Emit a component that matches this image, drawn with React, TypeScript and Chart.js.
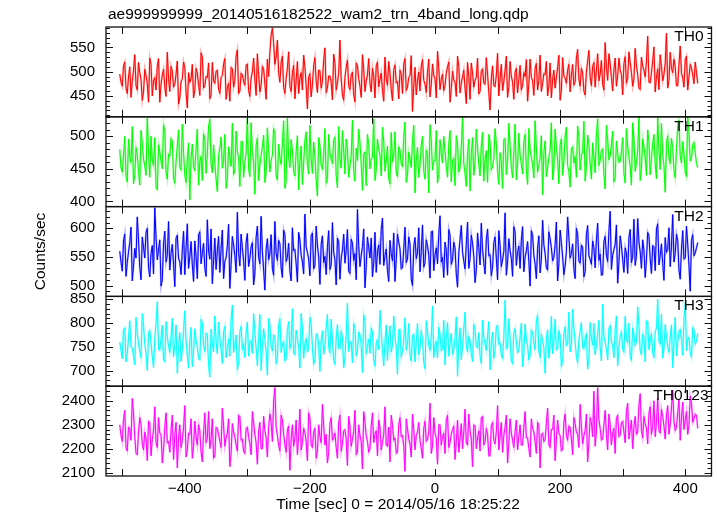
import React, { useEffect, useRef } from "react";
import { Chart, registerables } from "chart.js";

Chart.register(...registerables);

const TITLE = "ae999999999_20140516182522_wam2_trn_4band_long.qdp";
const X_TITLE = "Time [sec] 0 = 2014/05/16 18:25:22";
const Y_TITLE = "Counts/sec";

// Samples: "A" arrays at t = T_START + i*BIN, "B" arrays at t = T_START + BIN/2 + i*BIN
const T_START = -504;
const BIN = 4;

const TH0_RATE_A = [
  495, 470, 520, 455, 510, 480, 535, 462, 498, 441,
  505, 476, 528, 450, 488, 512, 437, 493, 468, 540,
  459, 501, 474, 522, 446, 485, 509, 425, 478, 515,
  462, 497, 451, 530, 471, 488, 444, 519, 476, 503,
  455, 492, 527, 468, 439, 506, 481, 545, 460, 494,
  472, 516, 449, 500, 483, 537, 458, 511, 475, 526,
  540, 590, 515, 565, 478, 532, 455, 508, 470, 498,
  444, 521, 487, 462, 510, 423, 496, 473, 529, 457,
  502, 480, 549, 466, 491, 442, 518, 477, 565, 452,
  488, 524, 463, 499, 438, 512, 470, 535, 459, 493,
  476, 507, 446, 520, 484, 461, 530, 472, 497, 440,
  514, 479, 503, 455, 527, 468, 492, 418, 509, 481,
  460, 525, 474, 499, 448, 516, 486, 542, 463, 495,
  471, 510, 437, 501, 478, 532, 456, 489, 466, 519,
  443, 497, 482, 528, 459, 506, 474, 495, 421, 512,
  469, 538, 485, 461, 503, 447, 521, 478, 499, 456,
  513, 472, 490, 439, 526, 481, 507, 462, 534, 475,
  494, 450, 518, 483, 466, 509, 441, 529, 487, 503,
  458, 515, 479, 546, 470, 497, 452, 522, 488, 511,
  468, 537, 495, 474, 560, 482, 516, 460, 528, 491,
  503, 452, 531, 486, 519, 470, 548, 494, 463, 512,
  489, 573, 477, 522, 458, 506, 535, 481, 517, 466,
  540, 498, 510, 471, 553, 487, 525, 462, 515, 493,
  520, 476,
];
const TH0_RATE_B = [
  478, 512, 466, 489, 447, 503, 471, 519, 484, 458,
  492, 437, 515, 481, 462, 527, 474, 505, 449, 486,
  511, 468, 495, 433, 479, 520, 457, 498, 485, 446,
  507, 473, 539, 466, 490, 518, 452, 481, 501, 464,
  488, 516, 443, 476, 509, 468, 532, 455, 497, 479,
  513, 461, 486, 528, 451, 494, 472, 505, 443, 490,
  575, 560, 530, 498, 519, 467, 486, 541, 459, 513,
  482, 455, 498, 534, 471, 489, 448, 512, 480, 503,
  466, 524, 457, 491, 478, 536, 462, 497, 485, 441,
  509, 471, 493, 452, 518, 486, 447, 505, 480, 527,
  458, 490, 512, 469, 497, 439, 486, 521, 463, 504,
  477, 444, 495, 516, 461, 488, 533, 470, 452, 499,
  511, 482, 457, 526, 473, 492, 446, 508, 484, 461,
  497, 520, 465, 483, 449, 511, 476, 503, 434, 490,
  518, 468, 489, 454, 501, 476, 529, 457, 486, 471,
  493, 450, 515, 479, 532, 468, 491, 443, 507, 484,
  462, 498, 525, 474, 488, 451, 517, 482, 459, 496,
  521, 470, 446, 503, 487, 534, 462, 491, 476, 515,
  493, 472, 528, 485, 507, 460, 499, 544, 471, 519,
  502, 481, 523, 462, 511, 537, 488, 505, 470, 528,
  494, 517, 476, 541, 499, 485, 512, 466, 530, 503,
  520, 478, 497, 551, 489, 463, 511, 494, 579, 482,
  507, 526, 471, 515, 497, 468, 532, 489, 508, 475,
  498,
];

const TH1_RATE_A = [
  480, 445, 500, 430, 468, 515, 441, 472, 425, 490,
  455, 528, 437, 463, 498, 418, 476, 450, 507, 434,
  470, 493, 428, 485, 452, 519, 440, 466, 402, 488,
  447, 511, 461, 432, 495, 473, 526, 444, 458, 415,
  482, 451, 503, 436, 469, 520, 448, 477, 423, 492,
  460, 530, 438, 475, 411, 497, 456, 484, 429, 513,
  445, 471, 505, 433, 466, 489, 420, 528, 452, 478,
  439, 501, 462, 426, 494, 457, 517, 443, 470, 408,
  486, 449, 512, 435, 474, 458, 499, 421, 467, 509,
  442, 481, 455, 525, 431, 463, 490, 417, 476, 503,
  450, 468, 432, 496, 472, 514, 446, 485, 427, 461,
  507, 438, 479, 453, 522, 441, 466, 492, 413, 483,
  456, 500, 434, 471, 518, 448, 464, 428, 495, 459,
  477, 437, 509, 462, 424, 488, 451, 530, 443, 473,
  416, 498, 460, 482, 439, 506, 465, 429, 491, 454,
  512, 447, 475, 420, 497, 463, 486, 436, 519, 458,
  471, 442, 503, 426, 480, 457, 524, 445, 467, 410,
  493, 452, 478, 433, 511, 464, 487, 440, 499, 455,
  422, 484, 469, 516, 448, 476, 431, 502, 459, 490,
  444, 527, 463, 481, 419, 495, 470, 508, 437, 474,
  461, 498, 428, 485, 453, 521, 446, 479, 432, 496,
  467, 510, 441, 488, 457, 529, 449, 472, 414, 501,
  458, 483, 436, 515, 470, 492, 445, 530, 462, 487,
  475, 452,
];
const TH1_RATE_B = [
  452, 471, 438, 496, 460, 427, 483, 447, 509, 465,
  440, 478, 500, 455, 421, 487, 462, 518, 444, 473,
  497, 436, 461, 510, 448, 475, 429, 490, 466, 452,
  481, 425, 469, 504, 443, 516, 458, 487, 434, 471,
  499, 463, 420, 484, 454, 441, 508, 467, 492, 437,
  474, 449, 521, 460, 486, 432, 470, 502, 445, 480,
  463, 512, 439, 488, 457, 524, 431, 468, 495, 446,
  477, 418, 485, 459, 507, 442, 465, 491, 433, 498,
  456, 472, 428, 503, 466, 494, 440, 515, 451, 479,
  496, 437, 469, 446, 482, 511, 458, 473, 424, 489,
  465, 527, 448, 480, 439, 492, 461, 435, 506, 470,
  444, 484, 458, 498, 429, 476, 452, 517, 463, 437,
  486, 447, 479, 413, 493, 461, 509, 442, 474, 500,
  455, 488, 430, 467, 501, 445, 482, 459, 423, 496,
  472, 440, 511, 457, 485, 431, 478, 503, 448, 466,
  489, 426, 462, 495, 441, 520, 453, 477, 433, 505,
  458, 493, 447, 512, 468, 436, 484, 455, 501, 475,
  438, 467, 521, 450, 483, 427, 496, 462, 514, 446,
  480, 459, 437, 499, 471, 523, 452, 488, 434, 469,
  502, 455, 478, 441, 517, 464, 486, 430, 493, 460,
  476, 443, 512, 469, 425, 497, 458, 530, 451, 484,
  440, 492, 466, 503, 435, 478, 520, 455, 489, 468,
  497, 447, 481, 525, 459, 474, 438, 505, 466, 491,
  458,
];

const TH2_RATE_A = [
  560, 525, 590, 540, 575, 508, 565, 620, 532, 585,
  548, 600, 515, 570, 636, 545, 580, 510, 595, 553,
  527, 572, 498, 588, 541, 563, 519, 608, 550, 536,
  578, 512, 594, 557, 530, 615, 546, 503, 583, 561,
  523, 597, 542, 570, 495, 586, 552, 628, 534, 566,
  509, 591, 547, 575, 520, 604, 538, 559, 492, 582,
  555, 530, 612, 544, 573, 514, 589, 549, 525, 601,
  563, 506, 580, 541, 625, 558, 517, 592, 535, 571,
  502, 587, 551, 567, 528, 610, 545, 583, 511, 562,
  539, 598, 521, 574, 556, 633, 533, 568, 496, 585,
  548, 515, 593, 560, 537, 618, 552, 526, 579, 543,
  507, 590, 564, 531, 602, 546, 572, 500, 584, 557,
  524, 606, 540, 569, 513, 595, 553, 538, 622, 549,
  576, 518, 588, 544, 566, 497, 581, 559, 529, 611,
  547, 574, 505, 592, 536, 563, 520, 599, 554, 532,
  585, 510, 570, 545, 627, 541, 561, 516, 594, 558,
  530, 603, 549, 577, 499, 589, 537, 565, 522, 614,
  556, 527, 582, 543, 571, 508, 597, 550, 534, 620,
  548, 573, 512, 591, 539, 567, 524, 605, 546, 578,
  531, 609, 555, 519, 586, 542, 630, 553, 572, 504,
  587, 545, 566, 521, 598, 550, 535, 617, 559, 580,
  514, 593, 547, 570, 526, 608, 552, 538, 584, 563,
  533, 624, 556, 579, 511, 596, 548, 572, 490, 589,
  557, 575,
];
const TH2_RATE_B = [
  541, 578, 516, 559, 602, 534, 548, 580, 510, 567,
  593, 531, 556, 520, 585, 562, 499, 574, 541, 612,
  556, 537, 583, 548, 519, 595, 566, 530, 577, 507,
  551, 589, 538, 574, 516, 560, 599, 543, 528, 586,
  565, 512, 549, 607, 537, 571, 523, 558, 590, 542,
  575, 533, 568, 501, 584, 549, 621, 527, 563, 545,
  589, 518, 556, 579, 531, 597, 542, 574, 508, 561,
  538, 593, 553, 520, 568, 546, 587, 529, 604, 550,
  572, 540, 519, 596, 536, 558, 501, 577, 548, 590,
  561, 525, 581, 544, 510, 570, 552, 599, 532, 566,
  583, 540, 523, 571, 598, 535, 564, 507, 555, 592,
  545, 576, 529, 563, 540, 585, 511, 568, 547, 601,
  559, 532, 580, 553, 594, 526, 566, 589, 541, 514,
  562, 598, 537, 576, 520, 557, 605, 543, 572, 530,
  588, 551, 527, 566, 609, 540, 581, 552, 517, 575,
  548, 596, 533, 560, 518, 582, 547, 603, 535, 569,
  579, 524, 561, 542, 596, 553, 512, 587, 546, 571,
  531, 594, 566, 549, 611, 538, 575, 519, 560, 584,
  556, 529, 600, 543, 571, 515, 589, 552, 537, 566,
  580, 544, 518, 577, 553, 595, 528, 563, 606, 541,
  570, 523, 557, 584, 540, 616, 551, 576, 530, 562,
  545, 587, 521, 568, 599, 536, 573, 509, 558, 601,
  568, 541, 590, 527, 563, 546, 604, 535, 579, 552,
  566,
];

const TH3_RATE_A = [
  760, 725, 790, 735, 805, 748, 712, 778, 740, 820,
  755, 700, 785, 730, 768, 845, 742, 795, 718, 772,
  738, 810, 752, 694, 780, 745, 826, 733, 763, 708,
  788, 750, 722, 800, 740, 775, 686, 758, 815, 735,
  770, 715, 793, 747, 730, 838, 756, 702, 783, 744,
  727, 802, 761, 736, 779, 710, 818, 750, 765, 690,
  795, 741, 772, 728, 809, 754, 720, 786, 746, 830,
  733, 767, 705, 792, 757, 739, 812, 749, 724, 776,
  698, 784, 752, 818, 737, 764, 713, 797, 745, 771,
  729, 842, 758, 716, 789, 743, 775, 696, 803, 751,
  736, 781, 709, 766, 827, 744, 760, 721, 794, 753,
  770, 692, 787, 740, 811, 757, 731, 774, 718, 799,
  748, 765, 704, 783, 742, 836, 754, 726, 778, 746,
  712, 801, 759, 734, 768, 688, 790, 750, 823, 739,
  762, 719, 785, 747, 730, 806, 756, 774, 701, 781,
  743, 796, 758, 725, 848, 749, 767, 714, 788, 737,
  771, 708, 798, 753, 731, 779, 744, 817, 727, 763,
  694, 786, 751, 735, 808, 746, 773, 720, 792, 757,
  739, 829, 761, 716, 782, 748, 769, 703, 801, 754,
  733, 776, 747, 840, 760, 722, 795, 751, 785, 710,
  772, 744, 814, 758, 729, 790, 752, 834, 741, 777,
  718, 803, 762, 737, 781, 850, 755, 726, 797, 749,
  770, 706, 812, 759, 787, 732, 843, 765, 739, 791,
  755, 778,
];
const TH3_RATE_B = [
  742, 786, 718, 769, 750, 731, 812, 757, 727, 794,
  736, 779, 758, 706, 797, 744, 768, 723, 803, 751,
  770, 729, 796, 747, 719, 784, 760, 705, 791, 741,
  764, 725, 808, 755, 779, 710, 787, 739, 761, 802,
  745, 782, 727, 766, 806, 738, 775, 716, 793, 757,
  779, 730, 763, 820, 748, 771, 700, 788, 742, 810,
  752, 775, 715, 796, 738, 762, 724, 803, 759, 737,
  785, 749, 820, 726, 768, 744, 796, 713, 777, 752,
  762, 734, 790, 748, 808, 721, 769, 747, 783, 705,
  774, 740, 761, 799, 731, 781, 754, 817, 736, 766,
  790, 722, 758, 744, 781, 710, 796, 769, 739, 815,
  751, 786, 728, 763, 743, 799, 720, 777, 760, 733,
  784, 718, 805, 753, 770, 727, 762, 791, 741, 806,
  767, 730, 778, 744, 813, 757, 723, 789, 750, 772,
  735, 797, 752, 780, 715, 768, 742, 803, 757, 726,
  791, 755, 733, 772, 745, 809, 720, 779, 762, 743,
  800, 737, 767, 722, 786, 758, 804, 741, 776, 749,
  769, 726, 814, 761, 743, 784, 708, 776, 752, 823,
  755, 788, 730, 766, 801, 745, 778, 724, 769, 799,
  751, 806, 720, 771, 745, 788, 762, 727, 815, 747,
  782, 738, 767, 800, 721, 776, 760, 795, 733, 768,
  805, 744, 778, 727, 790, 761, 819, 746, 772, 738,
  796, 757, 731, 782, 766, 809, 742, 770, 728, 786,
  762,
];

const TH0123_RATE_A = [
  2300, 2230, 2360, 2190, 2280, 2410, 2250, 2175, 2330, 2220,
  2270, 2150, 2310, 2240, 2375, 2205, 2265, 2140, 2290, 2225,
  2185, 2340, 2255, 2120, 2300, 2235, 2380, 2195, 2260, 2160,
  2315, 2215, 2275, 2145, 2350, 2245, 2200, 2325, 2170, 2285,
  2230, 2370, 2210, 2265, 2125, 2305, 2250, 2190, 2335, 2240,
  2180, 2290, 2220, 2355, 2260, 2135, 2310, 2200, 2275, 2165,
  2345, 2230, 2455, 2255, 2190, 2320, 2215, 2280, 2110, 2300,
  2245, 2175, 2365, 2225, 2270, 2150, 2330, 2205, 2285, 2190,
  2250, 2385, 2215, 2140, 2305, 2235, 2265, 2160, 2340, 2220,
  2280, 2130, 2295, 2240, 2360, 2185, 2255, 2115, 2310, 2230,
  2200, 2350, 2260, 2170, 2290, 2225, 2375, 2210, 2145, 2300,
  2245, 2185, 2330, 2255, 2105, 2285, 2220, 2345, 2195, 2270,
  2235, 2160, 2315, 2240, 2390, 2210, 2265, 2135, 2300, 2250,
  2180, 2340, 2225, 2280, 2155, 2320, 2240, 2200, 2365, 2215,
  2275, 2125, 2295, 2245, 2190, 2335, 2230, 2260, 2170, 2310,
  2220, 2380, 2250, 2185, 2290, 2140, 2325, 2235, 2270, 2195,
  2300, 2215, 2355, 2245, 2165, 2285, 2230, 2310, 2120, 2265,
  2240, 2370, 2205, 2280, 2150, 2320, 2255, 2195, 2345, 2235,
  2290, 2175, 2305, 2260, 2385, 2220, 2275, 2145, 2330, 2250,
  2210, 2455, 2285, 2240, 2360, 2195, 2300, 2265, 2180, 2340,
  2255, 2315, 2225, 2390, 2280, 2200, 2335, 2270, 2430, 2245,
  2305, 2220, 2375, 2290, 2250, 2410, 2265, 2335, 2240, 2380,
  2300, 2445, 2275, 2350, 2235, 2395, 2320, 2260, 2420, 2310,
  2345, 2285,
];
const TH0123_RATE_B = [
  2255, 2320, 2205, 2290, 2235, 2345, 2180, 2270, 2300, 2195,
  2245, 2315, 2170, 2275, 2225, 2330, 2260, 2195, 2350, 2230,
  2280, 2155, 2310, 2240, 2205, 2290, 2165, 2265, 2325, 2210,
  2250, 2300, 2185, 2270, 2225, 2355, 2240, 2160, 2290, 2260,
  2205, 2295, 2245, 2325, 2180, 2270, 2215, 2340, 2235, 2190,
  2285, 2250, 2175, 2310, 2225, 2275, 2200, 2335, 2245, 2290,
  2310, 2400, 2290, 2215, 2340, 2260, 2185, 2295, 2240, 2210,
  2320, 2255, 2195, 2285, 2230, 2350, 2215, 2270, 2160, 2300,
  2225, 2295, 2260, 2185, 2330, 2245, 2205, 2310, 2190, 2275,
  2240, 2335, 2210, 2270, 2175, 2300, 2230, 2355, 2255, 2185,
  2295, 2225, 2275, 2320, 2195, 2260, 2215, 2290, 2340, 2235,
  2180, 2300, 2250, 2210, 2325, 2240, 2165, 2280, 2255, 2310,
  2200, 2285, 2230, 2270, 2180, 2330, 2245, 2300, 2215, 2265,
  2320, 2205, 2260, 2295, 2230, 2185, 2305, 2270, 2225, 2345,
  2240, 2300, 2200, 2275, 2330, 2215, 2285, 2170, 2295, 2235,
  2270, 2195, 2310, 2255, 2340, 2225, 2265, 2205, 2320, 2250,
  2215, 2290, 2245, 2200, 2325, 2270, 2180, 2300, 2260, 2230,
  2305, 2215, 2280, 2340, 2235, 2265, 2190, 2310, 2255, 2295,
  2240, 2330, 2270, 2205, 2295, 2255, 2345, 2225, 2310, 2440,
  2270, 2320, 2235, 2300, 2260, 2345, 2215, 2285, 2330, 2250,
  2310, 2270, 2355, 2240, 2320, 2290, 2260, 2380, 2275, 2335,
  2285, 2350, 2260, 2400, 2310, 2275, 2365, 2295, 2340, 2260,
  2370, 2315, 2290, 2405, 2330, 2280, 2355, 2300, 2390, 2325,
  2340,
];

const PANEL_NAMES = ["TH0", "TH1", "TH2", "TH3", "TH0123"];
const PANEL_DATA_A = [TH0_RATE_A, TH1_RATE_A, TH2_RATE_A, TH3_RATE_A, TH0123_RATE_A];
const PANEL_DATA_B = [TH0_RATE_B, TH1_RATE_B, TH2_RATE_B, TH3_RATE_B, TH0123_RATE_B];
const PANEL_COLORS = ["#ff0000", "#00ff00", "#0000ff", "#00ffff", "#ff00ff"];
const PANEL_HALO = [
  "rgba(255,0,0,0.3)",
  "rgba(0,255,0,0.3)",
  "rgba(0,0,255,0.3)",
  "rgba(0,255,255,0.3)",
  "rgba(255,0,255,0.3)",
];
const PANEL_MIN = [407, 392, 481, 667, 2086];
const PANEL_MAX = [592, 530, 638, 856, 2461];
const PANEL_TICKS = [
  [450, 500, 550],
  [400, 450, 500],
  [500, 550, 600],
  [700, 750, 800, 850],
  [2100, 2200, 2300, 2400],
];
const PANEL_MAJOR = [50, 50, 50, 50, 100];
const PANEL_MINOR = [10, 10, 10, 10, 20];

const X_MIN = -526;
const X_MAX = 442;
const X_TICK_LABELS = [-400, -200, 0, 200, 400];
const X_TICK_MARKS = [-500, -400, -300, -200, -100, 0, 100, 200, 300, 400];

const FONT_FAMILY = '"Liberation Sans", Arial, Helvetica, sans-serif';

const fmt = (v: number) => (v < 0 ? "\u2212" + String(-v) : String(v));

const framePlugin = {
  id: "qdpFrame",
  afterDraw(chart: any) {
    const ctx = chart.ctx as CanvasRenderingContext2D;
    const ca = chart.chartArea;
    const xs = chart.scales.x;
    ctx.save();
    ctx.fillStyle = "#000";
    ctx.font = `15.5px ${FONT_FAMILY}`;
    ctx.textBaseline = "middle";
    ctx.textAlign = "left";
    ctx.fillText(TITLE, 108, 15);
    ctx.textAlign = "center";
    ctx.fillText(X_TITLE, 398, 505);
    ctx.save();
    ctx.translate(41, (ca.top + ca.bottom) / 2);
    ctx.rotate(-Math.PI / 2);
    ctx.fillText(Y_TITLE, 0, 0);
    ctx.restore();

    PANEL_NAMES.forEach((name, k) => {
      const s = chart.scales["y" + k];
      const top = s.top;
      const bottom = s.bottom;
      ctx.lineWidth = 1.3;
      ctx.strokeStyle = "#111";
      ctx.strokeRect(ca.left, top, ca.right - ca.left, bottom - top);
      ctx.lineWidth = 1;
      ctx.beginPath();
      X_TICK_MARKS.forEach((v) => {
        const px = Math.round(xs.getPixelForValue(v)) + 0.5;
        ctx.moveTo(px, bottom);
        ctx.lineTo(px, bottom - 7);
        ctx.moveTo(px, top);
        ctx.lineTo(px, top + 7);
      });
      const minor = PANEL_MINOR[k];
      const major = PANEL_MAJOR[k];
      for (
        let v = Math.ceil(PANEL_MIN[k] / minor) * minor;
        v <= PANEL_MAX[k];
        v += minor
      ) {
        const py = Math.round(s.getPixelForValue(v)) + 0.5;
        const len = v % major === 0 ? 7 : 4;
        ctx.moveTo(ca.left, py);
        ctx.lineTo(ca.left + len, py);
        ctx.moveTo(ca.right, py);
        ctx.lineTo(ca.right - len, py);
      }
      ctx.stroke();
      ctx.textAlign = "right";
      ctx.textBaseline = "top";
      ctx.font = `15.5px ${FONT_FAMILY}`;
      ctx.fillText(name, name.length > 3 ? ca.right - 3 : ca.right - 8, top + 2);
    });
    ctx.restore();
  },
};

export default function App() {
  const ref = useRef<HTMLCanvasElement | null>(null);

  useEffect(() => {
    if (!ref.current) return;
    const datasets: any[] = [];
    PANEL_NAMES.forEach((_, k) => {
      const pts: { x: number; y: number }[] = [];
      const a = PANEL_DATA_A[k];
      const b = PANEL_DATA_B[k];
      for (let i = 0; i < a.length; i++) {
        pts.push({ x: T_START + i * BIN, y: a[i] });
        if (i < b.length) pts.push({ x: T_START + BIN / 2 + i * BIN, y: b[i] });
      }
      datasets.push({
        data: pts,
        yAxisID: "y" + k,
        borderColor: PANEL_HALO[k],
        borderWidth: 2,
        pointRadius: 0,
        tension: 0,
        fill: false,
      });
      datasets.push({
        data: pts,
        yAxisID: "y" + k,
        borderColor: PANEL_COLORS[k],
        borderWidth: 1,
        pointRadius: 0,
        tension: 0,
        fill: false,
      });
    });

    const scales: any = {
      x: {
        type: "linear",
        position: "bottom",
        min: X_MIN,
        max: X_MAX,
        afterBuildTicks: (s: any) => {
          s.ticks = X_TICK_LABELS.map((v) => ({ value: v }));
        },
        afterFit: (s: any) => {
          s.height = 40;
        },
        ticks: {
          autoSkip: false,
          maxRotation: 0,
          padding: 4,
          color: "#000",
          font: { family: FONT_FAMILY, size: 15 },
          callback: (v: any) => fmt(Number(v)),
        },
        grid: { display: false, drawTicks: false },
        border: { display: false },
      },
    };
    // top panel is defined last so that it is placed at the top of the stack
    for (let k = PANEL_NAMES.length - 1; k >= 0; k--) {
      const kk = k;
      scales["y" + kk] = {
        type: "linear",
        position: "left",
        stack: "panels",
        stackWeight: 1,
        min: PANEL_MIN[kk],
        max: PANEL_MAX[kk],
        afterBuildTicks: (s: any) => {
          s.ticks = PANEL_TICKS[kk].map((v) => ({ value: v }));
        },
        afterFit: (s: any) => {
          s.width = 106;
        },
        ticks: {
          autoSkip: false,
          padding: 11,
          color: "#000",
          font: { family: FONT_FAMILY, size: 15 },
          callback: (v: any) => fmt(Number(v)),
        },
        grid: { display: false, drawTicks: false },
        border: { display: false },
      };
    }

    const chart = new Chart(ref.current, {
      type: "line",
      data: { datasets },
      options: {
        animation: false,
        responsive: false,
        maintainAspectRatio: false,
        layout: { padding: { top: 27, right: 5.5, left: 0, bottom: 0 } },
        plugins: {
          legend: { display: false },
          tooltip: { enabled: false },
          title: { display: false },
        },
        scales,
      },
      plugins: [framePlugin],
    });
    return () => chart.destroy();
  }, []);

  return (
    <div style={{ position: "fixed", left: 0, top: 0, width: 717, height: 516, background: "#fff" }}>
      <canvas ref={ref} width={717} height={516} style={{ display: "block", width: 717, height: 516 }} />
    </div>
  );
}
